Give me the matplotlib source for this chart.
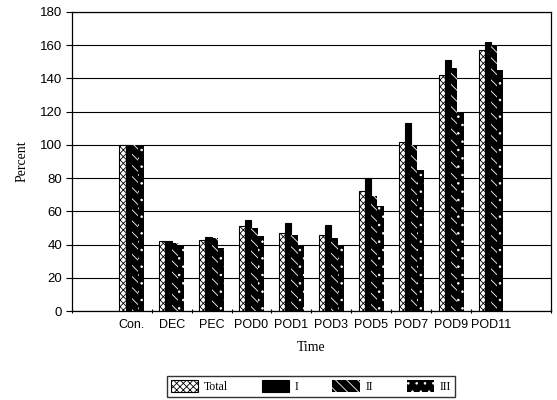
import numpy as np
import matplotlib
matplotlib.use("Agg")
import matplotlib.pyplot as plt
from matplotlib.patches import Patch

# values (percent of control)
times = ["Con.", "DEC", "PEC", "POD0", "POD1", "POD3", "POD5", "POD7", "POD9", "POD11"]
total = [100, 42, 43, 51, 47, 46, 72, 102, 142, 157]
grp_i = [100, 42, 44.5, 55, 53, 52, 80, 113, 151, 162]
grp_ii = [100, 41, 44, 50, 46, 44, 69, 100, 146, 160]
grp_iii = [100, 40, 38, 45, 39, 39, 63, 85, 119, 145]
yticks = [0, 20, 40, 60, 80, 100, 120, 140, 160, 180]

plt.rcParams["hatch.linewidth"] = 0.6

fig = plt.figure(figsize=(5.57, 4.0), dpi=100)
ax = fig.add_axes([0.129, 0.2225, 0.86, 0.7475])

x = np.arange(len(times))
w = 0.156
styles = [
    dict(facecolor="white", edgecolor="black", hatch="xxxxx", linewidth=0.8),
    dict(facecolor="black", edgecolor="black", linewidth=0.8),
    dict(facecolor="black", edgecolor="white", hatch="\\\\\\", linewidth=0),
    dict(facecolor="black", edgecolor="white", hatch="..", linewidth=0),
]
series = [total, grp_i, grp_ii, grp_iii]
for k, (vals, st) in enumerate(zip(series, styles)):
    ax.bar(x + (k - 1.5) * w, vals, width=w, zorder=3, **st)

ax.set_xlim(-1.5, 10.5)
ax.set_ylim(0, 180)
ax.set_yticks(yticks)
ax.yaxis.grid(True, color="black", linewidth=0.8, zorder=0)
ax.set_axisbelow(True)

ax.set_xticks(x)
ax.set_xticklabels(times, fontfamily="Liberation Sans", fontsize=9)
ax.tick_params(axis="x", which="major", length=0, pad=6)
ax.set_xticks(list(np.arange(0.5, 9, 1.0)) + [-1.5, 10.5], minor=True)
ax.tick_params(axis="x", which="minor", length=3, direction="inout", width=0.8)
ax.tick_params(axis="y", length=4, width=0.8, pad=3, labelsize=9.5)
for lab in ax.get_yticklabels():
    lab.set_fontfamily("Liberation Sans")

for sp in ax.spines.values():
    sp.set_linewidth(0.9)
    sp.set_color("black")

ax.set_ylabel("Percent", fontfamily="Liberation Serif", fontsize=10, labelpad=8)
ax.set_xlabel("Time", fontfamily="Liberation Serif", fontsize=10, labelpad=7)

handles = [Patch(**st) for st in styles]
fig.legend(handles, ["Total", "I", "II", "III"], loc="lower left",
           bbox_to_anchor=(167 / 557, 3 / 400, 288 / 557, 24 / 400), mode="expand",
           ncol=4, frameon=True, fancybox=False,
           edgecolor="black", prop={"family": "Liberation Serif", "size": 8.5},
           handlelength=2.3, handleheight=1.1, columnspacing=1.0,
           handletextpad=0.5, borderpad=0.35, borderaxespad=0)

fig.savefig("out.png", dpi=100)
